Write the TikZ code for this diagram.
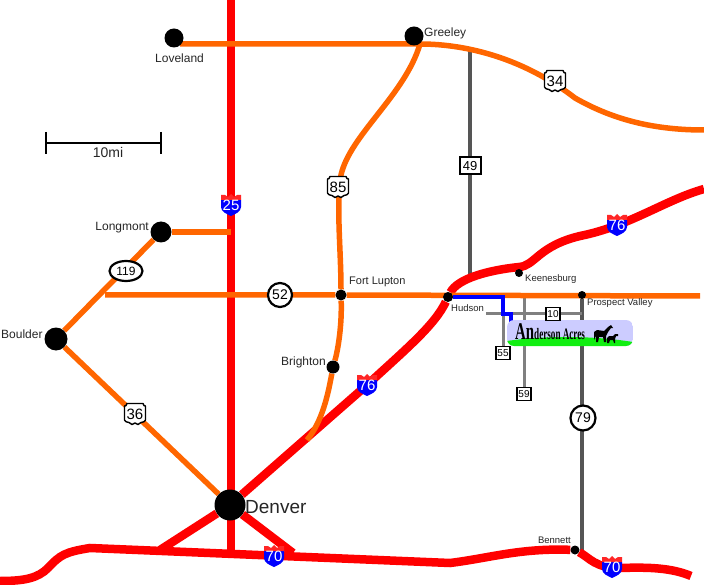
\documentclass[tikz,border=0pt]{standalone}
\usepackage{fontspec}
\usetikzlibrary{shapes.geometric,backgrounds}
\setmainfont{Liberation Sans}
\newfontfamily\bannerfont{Liberation Serif}
\definecolor{roadorange}{RGB}{255,102,0}
\definecolor{roadgray}{RGB}{85,85,85}
\definecolor{bannersky}{RGB}{204,204,255}
\definecolor{bannergrass}{RGB}{17,238,17}
\tikzset{
  interstate/.style={red,line width=8.5pt},
  usroad/.style={roadorange,line width=5.5pt},
  stateroad/.style={roadgray,line width=4.5pt},
  countyroad/.style={gray,line width=3pt},
  city/.style={circle,fill=black,inner sep=0pt,minimum size=#1},
  cityname/.style={text=black!85,font=\fontsize{#1}{#1}\selectfont,inner sep=0pt},
  shieldnum/.style={inner sep=0pt,font=\fontsize{15}{15}\selectfont},
  routebox/.style={draw=black,fill=white,line width=2pt,inner sep=0pt,minimum width=21pt,minimum height=17pt,font=\fontsize{13}{13}\selectfont},
  countybox/.style={draw=black,fill=white,line width=1.2pt,inner sep=0pt,minimum width=14pt,minimum height=13pt,font=\fontsize{10}{10}\selectfont},
  routering/.style={draw=black,fill=white,circle,line width=2.2pt,inner sep=0pt,minimum size=#1,font=\fontsize{14}{14}\selectfont},
  routeoval/.style={draw=black,fill=white,ellipse,line width=2.2pt,inner sep=0pt,minimum width=33pt,minimum height=20pt,font=\fontsize{12}{12}\selectfont},
  ishield/.pic={
    \fill[blue] (-10,-5) -- (10,-5) -- (10,2) .. controls (10,7) and (4,9) .. (0,11) .. controls (-4,9) and (-10,7) .. (-10,2) -- cycle;
    \fill[red!85!white] (-10,-5) -- (-10,-10) -- (-6,-10) -- (-3,-8) -- (0,-11) -- (3,-8) -- (6,-10) -- (10,-10) -- (10,-5) -- cycle;
  },
  usshield/.pic={
    \draw[fill=white,line width=1.4pt,line join=round] (-8,-10.5) -- (8,-10.5) .. controls (9,-8) .. (10.5,-8) -- (10.5,6) .. controls (10,8) and (8,8) .. (6,8.5) -- (3,10.5) -- (0,9) -- (-3,10.5) -- (-6,8.5) .. controls (-8,8) and (-10,8) .. (-10.5,6) -- (-10.5,-8) .. controls (-9,-8) .. (-8,-10.5) -- cycle;
  },
}
\begin{document}
\begin{tikzpicture}[x=1pt,y=-1pt]
\useasboundingbox (0,0) rectangle (704,585);
% towns
\node[city=19pt] (loveland) at (174,38) {};
\node[city=19pt] (greeley) at (414,36) {};
\node[city=21pt] (longmont) at (161,232) {};
\node[city=23pt] (boulder) at (56,339) {};
\node[city=31pt] (denver) at (230,505) {};
\node[city=11pt] (fortlupton) at (341,295) {};
\node[city=13pt] (brighton) at (333,367) {};
\node[city=10pt] (hudson) at (448,297) {};
\node[city=8pt] (keenesburg) at (519,273) {};
\node[city=8pt] (prospect) at (582,295) {};
\node[city=9pt] (bennett) at (575,550) {};
% loose ends
\coordinate (i25n) at (231,0);
\coordinate (i25s) at (231,553);
\coordinate (i70w) at (0,581);
\coordinate (i70e) at (691,576);
\coordinate (i76e) at (704,189);
\coordinate (i76a) at (367,385);
\coordinate (i76k) at (519,267);
\coordinate (us34e) at (704,130);
\coordinate (us34w) at (180,44);
\coordinate (us34a) at (420,44);
\coordinate (co52w) at (105,295);
\coordinate (co52e) at (700,296);
\coordinate (i25a) at (231,232);
\coordinate (us85s) at (307,440);
\coordinate (co49n) at (470,50);
\coordinate (co49s) at (470,282);
\coordinate (rampw) at (160,550);
\coordinate (rampe) at (293,553);
\coordinate (co79s) at (582,556);
\coordinate (cr10w) at (486,314);
\coordinate (cr10e) at (582,314);
\coordinate (cr55a) at (503,314);
\coordinate (cr55s) at (503,353);
\coordinate (cr59n) at (524,296);
\coordinate (cr59s) at (524,394);
\coordinate (bluea) at (503,297);
\coordinate (blueb) at (511,314);
\coordinate (bluec) at (511,323);
\begin{scope}[on background layer]
% grey roads
\draw[stateroad] (co49n) -- (co49s);
\draw[stateroad] (prospect) -- (co79s);
\draw[countyroad] (cr10w) -- (cr10e);
\draw[countyroad] (cr55a) -- (cr55s);
\draw[countyroad] (cr59n) -- (cr59s);
% interstates
\draw[interstate] (i25n) -- (i25s);
\draw[interstate] (i70w) .. controls (25,581) and (38,578) .. (48,568) .. controls (60,555) and (65,552) .. (90,548) -- (450,563) .. controls (490,558) and (520,548) .. (bennett) .. controls (590,558) and (595,568) .. (620,568) .. controls (650,567) and (672,568) .. (i70e);
\draw[interstate] (denver) -- (rampw);
\draw[interstate] (denver) -- (rampe);
\draw[interstate] (denver) -- (i76a) .. controls (405,350) and (435,325) .. (hudson) .. controls (458,278) and (490,270) .. (i76k) .. controls (535,266) and (538,246) .. (580,236) .. controls (630,226) and (665,200) .. (i76e);
% orange roads
\draw[usroad] (us34w) -- (us34a) .. controls (445,44) and (510,48) .. (575,98) .. controls (610,118) and (650,130) .. (us34e);
\draw[usroad] (us34a) .. controls (405,95) and (350,135) .. (341,175) .. controls (336,205) and (341,250) .. (fortlupton) .. controls (342,325) and (338,350) .. (brighton) .. controls (328,395) and (322,422) .. (us85s);
\draw[usroad] (co52w) -- (fortlupton) -- (co52e);
\draw[usroad] (longmont) -- (i25a);
\draw[usroad] (longmont) -- (boulder);
\draw[usroad] (boulder) -- (denver);
% way to the farm
\draw[blue,line width=4.5pt,line join=miter] (hudson) -- (bluea) |- (blueb) -- (bluec);
\end{scope}
% farm sign
\begin{scope}
\clip[rounded corners=7pt] (507,320) rectangle (633,346);
\fill[bannersky] (507,320) rectangle (633,346);
\fill[bannergrass] (507,341) .. controls (540,336) and (590,335) .. (633,342) -- (633,346) -- (507,346) -- cycle;
\end{scope}
\node[inner sep=0pt,anchor=base west] (signtext) at (515,339) {\bannerfont\bfseries\scalebox{.62}[1]{\fontsize{24}{24}\selectfont An}\scalebox{.57}[1]{\fontsize{16}{16}\selectfont derson Acres}};
\fill[black] (594,340) -- (594,332) -- (597,330) -- (604,331) -- (608,327) -- (611,325) -- (613,328) -- (611,328) -- (608,332) -- (606,336) -- (606,342) -- (604,342) -- (603,337) -- (599,337) -- (598,342) -- (596,342) -- (596,336) -- cycle;
\fill[black] (607,343) -- (607,338) -- (609,336) -- (613,336) -- (615,334) -- (618,334) -- (618,336) -- (616,336) -- (615,339) -- (615,343) -- (614,343) -- (613,340) -- (610,340) -- (609,343) -- cycle;
% signs
\pic at (231,205) {ishield};
\node[shieldnum,white] (i25) at (231,205) {25};
\pic at (274,556) {ishield};
\node[shieldnum,white] (i70a) at (274,556) {70};
\pic at (612,567) {ishield};
\node[shieldnum,white] (i70b) at (612,567) {70};
\pic at (367,385) {ishield};
\node[shieldnum,white] (i76s) at (367,385) {76};
\pic at (617,225) {ishield};
\node[shieldnum,white] (i76b) at (617,225) {76};
\pic at (555,81) {usshield};
\node[shieldnum] (us34) at (555,81) {34};
\pic at (338,187) {usshield};
\node[shieldnum] (us85) at (338,187) {85};
\pic at (135,414) {usshield};
\node[shieldnum] (us36) at (135,414) {36};
\node[routeoval] (co119) at (126,271) {119};
\node[routering=24pt] (co52) at (280,295) {52};
\node[routering=25pt] (co79) at (583,418) {79};
\node[routebox] (co49) at (470,166) {49};
\node[countybox] (cr10) at (553,314) {10};
\node[countybox] (cr55) at (503,353) {55};
\node[countybox] (cr59) at (524,394) {59};
% names
\node[cityname=12,anchor=west] (lovelandname) at (155,58) {Loveland};
\node[cityname=12,anchor=west] (greeleyname) at (424,33) {Greeley};
\node[cityname=12,anchor=east] (longmontname) at (149,228) {Longmont};
\node[cityname=12,anchor=west] (bouldername) at (1,334) {Boulder};
\node[cityname=19,anchor=west] (denvername) at (245,507) {Denver};
\node[cityname=11,anchor=west] (fortluptonname) at (349,282) {Fort Lupton};
\node[cityname=12,anchor=east] (brightonname) at (326,362) {Brighton};
\node[cityname=9.5,anchor=west] (hudsonname) at (451,308) {Hudson};
\node[cityname=9.5,anchor=west] (keenesburgname) at (525,279) {Keenesburg};
\node[cityname=9.5,anchor=west] (prospectname) at (587,303) {Prospect Valley};
\node[cityname=9.5,anchor=east] (bennettname) at (571,540) {Bennett};
% scale
\coordinate (scalea) at (46,143);
\coordinate (scaleb) at (161,143);
\coordinate (scalec) at (46,132);
\coordinate (scaled) at (46,154);
\coordinate (scalee) at (161,132);
\coordinate (scalef) at (161,154);
\draw[line width=2pt] (scalea) -- (scaleb);
\draw[line width=2pt] (scalec) -- (scaled);
\draw[line width=2pt] (scalee) -- (scalef);
\node[cityname=14] (scalename) at (108,152) {10mi};
\end{tikzpicture}
\end{document}
